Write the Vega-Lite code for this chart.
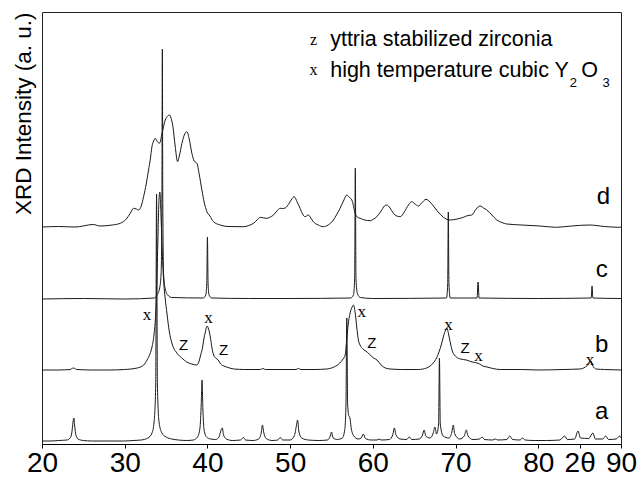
{
  "$schema": "https://vega.github.io/schema/vega-lite/v6.json",
  "width": 579,
  "height": 432,
  "autosize": {"type": "none"},
  "padding": {"left": 42, "top": 12, "right": 18, "bottom": 34},
  "background": "white",
  "config": {
    "view": {"stroke": "#222", "strokeWidth": 1},
    "axis": {"grid": false}
  },
  "datasets": {
    "xrd": [
      {"sample":"a","t":20,"i":3},{"sample":"a","t":21,"i":3},{"sample":"a","t":22,"i":3.5},{"sample":"a","t":23,"i":4},{"sample":"a","t":23.4,"i":6},{"sample":"a","t":23.6,"i":11},{"sample":"a","t":23.75,"i":22},{"sample":"a","t":23.85,"i":26},{"sample":"a","t":23.95,"i":18},{"sample":"a","t":24.1,"i":9},{"sample":"a","t":24.35,"i":5},{"sample":"a","t":25,"i":3.5},{"sample":"a","t":26,"i":3},{"sample":"a","t":28,"i":3},{"sample":"a","t":30,"i":3},{"sample":"a","t":31,"i":3.5},{"sample":"a","t":32,"i":4},{"sample":"a","t":32.8,"i":6},{"sample":"a","t":33.3,"i":11},{"sample":"a","t":33.55,"i":22},{"sample":"a","t":33.75,"i":60},{"sample":"a","t":33.85,"i":250},{"sample":"a","t":33.95,"i":60},{"sample":"a","t":34.15,"i":22},{"sample":"a","t":34.5,"i":11},{"sample":"a","t":35,"i":7},{"sample":"a","t":35.7,"i":5},{"sample":"a","t":36.5,"i":4},{"sample":"a","t":37.5,"i":3.5},{"sample":"a","t":38.3,"i":4},{"sample":"a","t":38.8,"i":7},{"sample":"a","t":39.1,"i":16},{"sample":"a","t":39.25,"i":40},{"sample":"a","t":39.35,"i":64},{"sample":"a","t":39.45,"i":35},{"sample":"a","t":39.6,"i":14},{"sample":"a","t":39.9,"i":7},{"sample":"a","t":40.4,"i":5},{"sample":"a","t":41,"i":4.5},{"sample":"a","t":41.4,"i":7},{"sample":"a","t":41.65,"i":14},{"sample":"a","t":41.8,"i":16},{"sample":"a","t":41.95,"i":9},{"sample":"a","t":42.3,"i":5},{"sample":"a","t":43,"i":3.5},{"sample":"a","t":44,"i":4},{"sample":"a","t":44.35,"i":6.5},{"sample":"a","t":44.6,"i":4},{"sample":"a","t":45.5,"i":3.5},{"sample":"a","t":46.2,"i":5},{"sample":"a","t":46.5,"i":11},{"sample":"a","t":46.65,"i":19},{"sample":"a","t":46.8,"i":12},{"sample":"a","t":47.1,"i":5.5},{"sample":"a","t":47.8,"i":3.5},{"sample":"a","t":48.5,"i":4},{"sample":"a","t":48.8,"i":6.5},{"sample":"a","t":49.1,"i":4},{"sample":"a","t":50,"i":4},{"sample":"a","t":50.5,"i":8},{"sample":"a","t":50.75,"i":18},{"sample":"a","t":50.9,"i":24},{"sample":"a","t":51.05,"i":13},{"sample":"a","t":51.4,"i":6},{"sample":"a","t":52.2,"i":4},{"sample":"a","t":53.5,"i":3.5},{"sample":"a","t":54.5,"i":4},{"sample":"a","t":54.85,"i":8},{"sample":"a","t":55,"i":12},{"sample":"a","t":55.2,"i":6},{"sample":"a","t":55.7,"i":4.5},{"sample":"a","t":56.3,"i":6},{"sample":"a","t":56.6,"i":14},{"sample":"a","t":56.75,"i":40},{"sample":"a","t":56.85,"i":126},{"sample":"a","t":56.95,"i":40},{"sample":"a","t":57.1,"i":28},{"sample":"a","t":57.2,"i":27},{"sample":"a","t":57.4,"i":15},{"sample":"a","t":57.7,"i":8},{"sample":"a","t":58.2,"i":5},{"sample":"a","t":58.6,"i":6},{"sample":"a","t":58.85,"i":10},{"sample":"a","t":59.1,"i":5.5},{"sample":"a","t":59.8,"i":4},{"sample":"a","t":60.5,"i":4},{"sample":"a","t":60.75,"i":5},{"sample":"a","t":61,"i":4},{"sample":"a","t":62,"i":4.5},{"sample":"a","t":62.4,"i":9},{"sample":"a","t":62.6,"i":16},{"sample":"a","t":62.8,"i":9},{"sample":"a","t":63.3,"i":5},{"sample":"a","t":64.1,"i":4.5},{"sample":"a","t":64.4,"i":7},{"sample":"a","t":64.7,"i":4.5},{"sample":"a","t":65.6,"i":5},{"sample":"a","t":66,"i":9},{"sample":"a","t":66.2,"i":14},{"sample":"a","t":66.4,"i":8},{"sample":"a","t":66.9,"i":6},{"sample":"a","t":67.3,"i":11},{"sample":"a","t":67.5,"i":17},{"sample":"a","t":67.7,"i":10},{"sample":"a","t":67.95,"i":20},{"sample":"a","t":68.05,"i":86},{"sample":"a","t":68.15,"i":20},{"sample":"a","t":68.5,"i":8},{"sample":"a","t":69.2,"i":6},{"sample":"a","t":69.55,"i":12},{"sample":"a","t":69.72,"i":19},{"sample":"a","t":69.9,"i":10},{"sample":"a","t":70.5,"i":5},{"sample":"a","t":71.05,"i":8},{"sample":"a","t":71.3,"i":14},{"sample":"a","t":71.5,"i":8},{"sample":"a","t":72.1,"i":4.5},{"sample":"a","t":72.9,"i":5},{"sample":"a","t":73.2,"i":7},{"sample":"a","t":73.5,"i":4.5},{"sample":"a","t":74.5,"i":4},{"sample":"a","t":74.8,"i":5},{"sample":"a","t":75.1,"i":4},{"sample":"a","t":76.2,"i":4.5},{"sample":"a","t":76.55,"i":8},{"sample":"a","t":76.9,"i":4.5},{"sample":"a","t":77.8,"i":4},{"sample":"a","t":78.1,"i":6},{"sample":"a","t":78.4,"i":4},{"sample":"a","t":79.5,"i":3.5},{"sample":"a","t":81,"i":3.5},{"sample":"a","t":82.6,"i":4},{"sample":"a","t":83.2,"i":8},{"sample":"a","t":83.5,"i":4.5},{"sample":"a","t":84.4,"i":5},{"sample":"a","t":84.8,"i":13},{"sample":"a","t":85.1,"i":6},{"sample":"a","t":86.1,"i":5.5},{"sample":"a","t":86.6,"i":11},{"sample":"a","t":86.9,"i":5},{"sample":"a","t":87.8,"i":5},{"sample":"a","t":88.15,"i":8},{"sample":"a","t":88.5,"i":4.5},{"sample":"a","t":89.4,"i":5},{"sample":"a","t":89.85,"i":8},{"sample":"a","t":90,"i":6},

      {"sample":"b","t":20,"i":74},{"sample":"b","t":22,"i":74},{"sample":"b","t":23.4,"i":74.5},{"sample":"b","t":23.8,"i":76},{"sample":"b","t":24.2,"i":74.5},{"sample":"b","t":26,"i":74},{"sample":"b","t":28,"i":74},{"sample":"b","t":30,"i":74.5},{"sample":"b","t":31.5,"i":76},{"sample":"b","t":32.3,"i":79},{"sample":"b","t":32.7,"i":84},{"sample":"b","t":33.05,"i":90},{"sample":"b","t":33.3,"i":97},{"sample":"b","t":33.55,"i":110},{"sample":"b","t":33.7,"i":124},{"sample":"b","t":33.85,"i":150},{"sample":"b","t":34,"i":200},{"sample":"b","t":34.15,"i":245},{"sample":"b","t":34.25,"i":252},{"sample":"b","t":34.4,"i":225},{"sample":"b","t":34.55,"i":190},{"sample":"b","t":34.7,"i":164},{"sample":"b","t":34.9,"i":145},{"sample":"b","t":35.1,"i":131},{"sample":"b","t":35.4,"i":112},{"sample":"b","t":35.7,"i":101},{"sample":"b","t":36.3,"i":91},{"sample":"b","t":36.9,"i":86},{"sample":"b","t":37.5,"i":82},{"sample":"b","t":38.1,"i":80},{"sample":"b","t":38.7,"i":79},{"sample":"b","t":39,"i":83},{"sample":"b","t":39.15,"i":88},{"sample":"b","t":39.4,"i":96},{"sample":"b","t":39.55,"i":104},{"sample":"b","t":39.75,"i":112},{"sample":"b","t":39.95,"i":118},{"sample":"b","t":40.1,"i":116},{"sample":"b","t":40.35,"i":107},{"sample":"b","t":40.55,"i":96},{"sample":"b","t":40.75,"i":89},{"sample":"b","t":41,"i":86},{"sample":"b","t":41.3,"i":84},{"sample":"b","t":41.6,"i":80},{"sample":"b","t":42,"i":78},{"sample":"b","t":42.5,"i":76.5},{"sample":"b","t":43.2,"i":75},{"sample":"b","t":44.5,"i":74.5},{"sample":"b","t":46.4,"i":74.5},{"sample":"b","t":46.7,"i":75.5},{"sample":"b","t":47,"i":74.5},{"sample":"b","t":49,"i":74.5},{"sample":"b","t":50.7,"i":74.5},{"sample":"b","t":51,"i":75.5},{"sample":"b","t":51.3,"i":74.5},{"sample":"b","t":53,"i":74.5},{"sample":"b","t":54.4,"i":75},{"sample":"b","t":55.3,"i":77},{"sample":"b","t":56,"i":81},{"sample":"b","t":56.4,"i":85},{"sample":"b","t":56.65,"i":89},{"sample":"b","t":56.85,"i":105},{"sample":"b","t":57,"i":118},{"sample":"b","t":57.25,"i":131},{"sample":"b","t":57.5,"i":137},{"sample":"b","t":57.65,"i":139},{"sample":"b","t":57.85,"i":132},{"sample":"b","t":58.05,"i":117},{"sample":"b","t":58.25,"i":104},{"sample":"b","t":58.45,"i":99},{"sample":"b","t":58.8,"i":95},{"sample":"b","t":59.3,"i":92},{"sample":"b","t":59.8,"i":88},{"sample":"b","t":60.1,"i":86},{"sample":"b","t":60.5,"i":84},{"sample":"b","t":61,"i":79},{"sample":"b","t":61.5,"i":76},{"sample":"b","t":62.1,"i":75},{"sample":"b","t":63.5,"i":74.5},{"sample":"b","t":65.5,"i":74.5},{"sample":"b","t":66.5,"i":76},{"sample":"b","t":67.3,"i":81},{"sample":"b","t":67.7,"i":86},{"sample":"b","t":67.95,"i":91},{"sample":"b","t":68.3,"i":100},{"sample":"b","t":68.55,"i":108},{"sample":"b","t":68.8,"i":114},{"sample":"b","t":68.95,"i":116},{"sample":"b","t":69.15,"i":110},{"sample":"b","t":69.4,"i":100},{"sample":"b","t":69.6,"i":93},{"sample":"b","t":70.1,"i":87},{"sample":"b","t":70.6,"i":85},{"sample":"b","t":71.3,"i":84},{"sample":"b","t":72,"i":82},{"sample":"b","t":72.6,"i":81},{"sample":"b","t":72.9,"i":80},{"sample":"b","t":73.3,"i":78},{"sample":"b","t":73.8,"i":77},{"sample":"b","t":74.5,"i":75.5},{"sample":"b","t":75.4,"i":74.5},{"sample":"b","t":78,"i":74.5},{"sample":"b","t":80,"i":74},{"sample":"b","t":83,"i":74.5},{"sample":"b","t":85,"i":75},{"sample":"b","t":85.7,"i":77},{"sample":"b","t":86.1,"i":80},{"sample":"b","t":86.35,"i":83},{"sample":"b","t":86.6,"i":78},{"sample":"b","t":87,"i":75},{"sample":"b","t":88,"i":74.5},{"sample":"b","t":90,"i":74},

      {"sample":"c","t":20,"i":145},{"sample":"c","t":25,"i":145.5},{"sample":"c","t":30,"i":145},{"sample":"c","t":33.6,"i":146},{"sample":"c","t":33.9,"i":149},{"sample":"c","t":34.2,"i":155},{"sample":"c","t":34.4,"i":170},{"sample":"c","t":34.5,"i":250},{"sample":"c","t":34.55,"i":395},{"sample":"c","t":34.6,"i":250},{"sample":"c","t":34.7,"i":170},{"sample":"c","t":34.9,"i":155},{"sample":"c","t":35.2,"i":149},{"sample":"c","t":35.7,"i":146.5},{"sample":"c","t":39.5,"i":146},{"sample":"c","t":39.8,"i":149},{"sample":"c","t":39.92,"i":160},{"sample":"c","t":40,"i":207},{"sample":"c","t":40.08,"i":160},{"sample":"c","t":40.2,"i":149},{"sample":"c","t":40.5,"i":146},{"sample":"c","t":45,"i":145.5},{"sample":"c","t":50,"i":145.5},{"sample":"c","t":57.3,"i":146},{"sample":"c","t":57.65,"i":149},{"sample":"c","t":57.8,"i":165},{"sample":"c","t":57.88,"i":276},{"sample":"c","t":57.96,"i":165},{"sample":"c","t":58.15,"i":150},{"sample":"c","t":58.5,"i":146.5},{"sample":"c","t":60,"i":145.5},{"sample":"c","t":68.9,"i":146},{"sample":"c","t":69.05,"i":160},{"sample":"c","t":69.12,"i":232},{"sample":"c","t":69.2,"i":160},{"sample":"c","t":69.35,"i":146},{"sample":"c","t":72.6,"i":146},{"sample":"c","t":72.72,"i":162},{"sample":"c","t":72.84,"i":146},{"sample":"c","t":80,"i":145.5},{"sample":"c","t":86.4,"i":146},{"sample":"c","t":86.5,"i":158},{"sample":"c","t":86.6,"i":146},{"sample":"c","t":90,"i":145.5},

      {"sample":"d","t":20,"i":217},{"sample":"d","t":22,"i":217.5},{"sample":"d","t":24,"i":217},{"sample":"d","t":26.2,"i":219.5},{"sample":"d","t":27,"i":218},{"sample":"d","t":28.5,"i":219},{"sample":"d","t":29.46,"i":220.7},{"sample":"d","t":30.2,"i":225},{"sample":"d","t":30.67,"i":230.7},{"sample":"d","t":31.07,"i":235.7},{"sample":"d","t":31.4,"i":235},{"sample":"d","t":31.67,"i":234},{"sample":"d","t":32,"i":238},{"sample":"d","t":32.28,"i":247.3},{"sample":"d","t":32.6,"i":260},{"sample":"d","t":32.88,"i":274},{"sample":"d","t":33.1,"i":285},{"sample":"d","t":33.29,"i":297.3},{"sample":"d","t":33.5,"i":303},{"sample":"d","t":33.69,"i":305.7},{"sample":"d","t":33.9,"i":303},{"sample":"d","t":34.21,"i":300.7},{"sample":"d","t":34.5,"i":310},{"sample":"d","t":34.9,"i":324},{"sample":"d","t":35.2,"i":328},{"sample":"d","t":35.42,"i":329},{"sample":"d","t":35.6,"i":326},{"sample":"d","t":35.83,"i":317.3},{"sample":"d","t":36.1,"i":298},{"sample":"d","t":36.39,"i":282.3},{"sample":"d","t":36.6,"i":288},{"sample":"d","t":36.92,"i":300.7},{"sample":"d","t":37.2,"i":309},{"sample":"d","t":37.52,"i":312.3},{"sample":"d","t":37.8,"i":305},{"sample":"d","t":38.12,"i":290.7},{"sample":"d","t":38.4,"i":283},{"sample":"d","t":38.73,"i":280.7},{"sample":"d","t":39,"i":270},{"sample":"d","t":39.33,"i":254},{"sample":"d","t":39.6,"i":242},{"sample":"d","t":39.94,"i":232.3},{"sample":"d","t":40.3,"i":228},{"sample":"d","t":40.73,"i":222.3},{"sample":"d","t":41.54,"i":219},{"sample":"d","t":42.5,"i":217.5},{"sample":"d","t":44.36,"i":217.3},{"sample":"d","t":45,"i":218.5},{"sample":"d","t":45.57,"i":220.7},{"sample":"d","t":46,"i":224},{"sample":"d","t":46.38,"i":226.7},{"sample":"d","t":46.8,"i":226},{"sample":"d","t":47.19,"i":225.7},{"sample":"d","t":47.6,"i":227},{"sample":"d","t":47.99,"i":229},{"sample":"d","t":48.4,"i":233},{"sample":"d","t":48.8,"i":235.7},{"sample":"d","t":49.1,"i":235.5},{"sample":"d","t":49.4,"i":236},{"sample":"d","t":49.9,"i":241},{"sample":"d","t":50.2,"i":245},{"sample":"d","t":50.49,"i":247.3},{"sample":"d","t":50.85,"i":242},{"sample":"d","t":51.2,"i":235.7},{"sample":"d","t":51.5,"i":230},{"sample":"d","t":51.8,"i":227.3},{"sample":"d","t":52.2,"i":229},{"sample":"d","t":52.5,"i":226},{"sample":"d","t":52.8,"i":222.3},{"sample":"d","t":53.4,"i":219},{"sample":"d","t":54,"i":217.3},{"sample":"d","t":54.6,"i":219},{"sample":"d","t":55.23,"i":224},{"sample":"d","t":55.6,"i":229},{"sample":"d","t":56.04,"i":235.7},{"sample":"d","t":56.5,"i":244},{"sample":"d","t":56.85,"i":249},{"sample":"d","t":57.1,"i":247},{"sample":"d","t":57.46,"i":244},{"sample":"d","t":57.86,"i":230.7},{"sample":"d","t":58.1,"i":227},{"sample":"d","t":58.46,"i":225.7},{"sample":"d","t":59,"i":224},{"sample":"d","t":59.67,"i":223.3},{"sample":"d","t":60.1,"i":225},{"sample":"d","t":60.48,"i":227.3},{"sample":"d","t":61,"i":233},{"sample":"d","t":61.4,"i":238},{"sample":"d","t":61.69,"i":239},{"sample":"d","t":62.08,"i":236},{"sample":"d","t":62.48,"i":230.7},{"sample":"d","t":62.9,"i":228},{"sample":"d","t":63.3,"i":227.3},{"sample":"d","t":63.8,"i":232},{"sample":"d","t":64.3,"i":239},{"sample":"d","t":64.7,"i":242.3},{"sample":"d","t":65.1,"i":240},{"sample":"d","t":65.5,"i":238},{"sample":"d","t":65.9,"i":241},{"sample":"d","t":66.43,"i":244.7},{"sample":"d","t":66.9,"i":242},{"sample":"d","t":67.32,"i":238},{"sample":"d","t":67.9,"i":232},{"sample":"d","t":68.53,"i":226.7},{"sample":"d","t":69.33,"i":224},{"sample":"d","t":70.2,"i":225},{"sample":"d","t":70.94,"i":226.7},{"sample":"d","t":71.5,"i":228.5},{"sample":"d","t":71.95,"i":229},{"sample":"d","t":72.5,"i":235},{"sample":"d","t":72.96,"i":238},{"sample":"d","t":73.4,"i":236},{"sample":"d","t":73.77,"i":234},{"sample":"d","t":74.4,"i":229},{"sample":"d","t":74.98,"i":224},{"sample":"d","t":75.6,"i":221.5},{"sample":"d","t":76.19,"i":220},{"sample":"d","t":78,"i":219},{"sample":"d","t":80.2,"i":218},{"sample":"d","t":82.2,"i":216.7},{"sample":"d","t":84,"i":218},{"sample":"d","t":86.2,"i":219},{"sample":"d","t":88,"i":217.5},{"sample":"d","t":89.8,"i":216.7},{"sample":"d","t":90,"i":217}
    ],
    "samples": [
      {"t":87.67,"i":32,"s":"a"},{"t":87.67,"i":99,"s":"b"},{"t":87.67,"i":174,"s":"c"},{"t":87.87,"i":247,"s":"d"}
    ],
    "phaseX": [
      {"t":32.69,"i":129,"s":"x"},{"t":40.13,"i":126,"s":"x"},{"t":58.67,"i":132,"s":"x"},{"t":69.13,"i":119,"s":"x"},{"t":72.76,"i":88,"s":"x"},{"t":86.25,"i":84,"s":"x"}
    ],
    "phaseZ": [
      {"t":37.11,"i":99,"s":"Z"},{"t":41.94,"i":94,"s":"Z"},{"t":59.87,"i":101,"s":"Z"},{"t":71.15,"i":96,"s":"Z"}
    ],
    "legendMarks": [
      {"t":52.82,"i":404,"s":"z"},{"t":52.82,"i":374,"s":"x"}
    ],
    "legendText": [
      {"t":54.84,"i":398.3,"s":"yttria stabilized zirconia"},{"t":54.84,"i":367.3,"s":"high temperature cubic Y"},{"t":85.2,"i":367.3,"s":"O"}
    ],
    "legendSub": [
      {"t":84.25,"i":360.7,"s":"2"},{"t":88.2,"i":360.7,"s":"3"}
    ]
  },
  "encoding": {
    "x": {"field": "t", "type": "quantitative",
          "scale": {"domain": [20, 90], "nice": false, "zero": false},
          "axis": {"title": null, "values": [20, 30, 40, 50, 60, 70, 80, 85, 90],
                   "labelExpr": "datum.value == 85 ? '2θ' : datum.label",
                   "labelFont": "Liberation Sans, Arial, sans-serif", "labelFontSize": 28, "labelColor": "black",
                   "labelFlush": false, "labelOverlap": false, "labelPadding": 1,
                   "tickSize": 4, "tickColor": "black", "domainColor": "black", "domainWidth": 1}},
    "y": {"field": "i", "type": "quantitative",
          "scale": {"domain": [0, 432], "nice": false, "zero": false},
          "axis": {"title": "XRD Intensity (a. u.)", "labels": false, "ticks": false, "domain": false,
                   "titleFont": "Liberation Sans, Arial, sans-serif", "titleFontSize": 22.5,
                   "titleFontWeight": "normal", "titleColor": "black", "titleAnchor": "end", "titlePadding": 7}}
  },
  "layer": [
    {
      "data": {"name": "xrd"},
      "mark": {"type": "line", "color": "#1a1a1a", "strokeWidth": 1, "interpolate": "monotone"},
      "encoding": {
        "detail": {"field": "sample", "type": "nominal"}
      }
    },
    {
      "data": {"name": "samples"},
      "mark": {"type": "text", "font": "Liberation Sans, Arial, sans-serif", "fontSize": 24, "align": "center", "baseline": "middle", "color": "black"},
      "encoding": {"text": {"field": "s"}}
    },
    {
      "data": {"name": "phaseX"},
      "mark": {"type": "text", "font": "Liberation Serif, serif", "fontSize": 17, "align": "center", "baseline": "middle", "color": "black"},
      "encoding": {"text": {"field": "s"}}
    },
    {
      "data": {"name": "phaseZ"},
      "mark": {"type": "text", "font": "Liberation Sans, sans-serif", "fontSize": 15, "align": "center", "baseline": "middle", "color": "black"},
      "encoding": {"text": {"field": "s"}}
    },
    {
      "data": {"name": "legendMarks"},
      "mark": {"type": "text", "font": "Liberation Serif, serif", "fontSize": 16, "align": "center", "baseline": "middle", "color": "black"},
      "encoding": {"text": {"field": "s"}}
    },
    {
      "data": {"name": "legendText"},
      "mark": {"type": "text", "font": "Liberation Sans, Arial, sans-serif", "fontSize": 21.5, "align": "left", "baseline": "alphabetic", "color": "black"},
      "encoding": {"text": {"field": "s"}}
    },
    {
      "data": {"name": "legendSub"},
      "mark": {"type": "text", "font": "Liberation Sans, Arial, sans-serif", "fontSize": 13, "align": "center", "baseline": "middle", "color": "black"},
      "encoding": {"text": {"field": "s"}}
    }
  ]
}
